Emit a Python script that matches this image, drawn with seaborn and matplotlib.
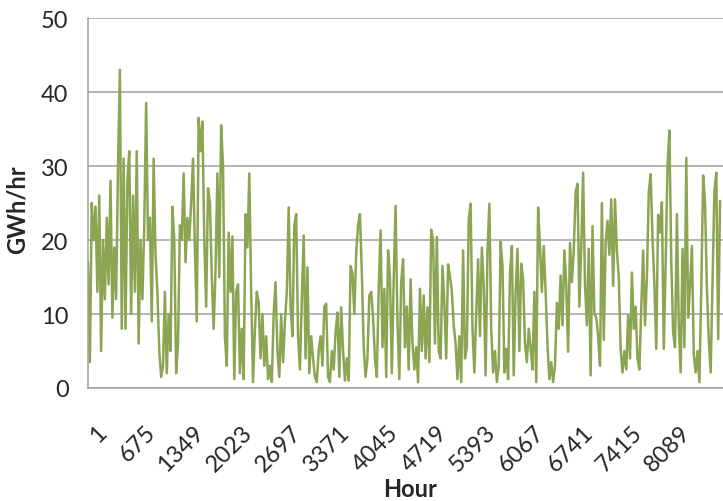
import numpy as np
import pandas as pd
import matplotlib
matplotlib.use('Agg')
import matplotlib.pyplot as plt
import matplotlib.transforms as mtransforms
import seaborn as sns

# Hourly load, one value roughly every 26 hours, in blocks of ~1040 hours
block1 = [17, 3.5, 25, 20, 24.5, 13, 26, 5, 20, 12, 23, 14, 28, 9.5, 19, 12, 30, 43, 8, 31,
          8, 28, 32, 10, 26, 13, 32, 6, 20, 12, 22, 38.5, 20, 23, 9, 31, 18, 13, 5, 1.5]
block2 = [3, 13, 2, 10, 5, 24.5, 20, 2, 6, 22, 20, 29, 17, 23, 20, 25, 31, 19, 9, 36.5,
          32, 36, 20, 11, 27, 25, 15, 8, 16, 29, 15, 35.5, 30, 7, 3, 21, 13, 20.5, 1.2, 13]
block3 = [14, 2, 8, 1.2, 23.5, 19, 29, 13, 0.8, 8, 13, 11.5, 4, 10, 3, 7, 1.2, 3, 0.8, 10,
          14.3, 5, 1.5, 10, 3.5, 9, 13, 24.4, 11, 7, 22, 23.5, 7, 2.5, 12, 20.6, 4, 16.3, 2, 7]
block4 = [4, 1.5, 0.8, 5, 7, 3, 11, 11.4, 1.5, 0.8, 5, 2.5, 7.5, 10.2, 1.5, 10.9, 5, 1, 4, 1,
          16.5, 15.5, 10, 18.3, 22, 23.5, 15.6, 5.5, 1.5, 4, 12.5, 13, 9.5, 4, 1.5, 13.4, 21.3, 5.5, 13.4, 1.5]
block5 = [18.6, 15, 2, 14.7, 24.6, 9, 1.2, 14.3, 17.4, 5.5, 11, 2.5, 14.7, 6, 2.5, 5.5, 0.8, 13.4, 5, 12.5,
          4, 10.9, 3.5, 21.4, 20, 6, 20.4, 5, 4, 16.5, 11.5, 4, 16.7, 15, 13, 8.5, 6, 1.2, 7, 0.8]
block6 = [18.6, 4, 5.5, 22.8, 24.9, 8, 2.1, 10, 17.4, 7, 19, 13.8, 1.7, 18.3, 24.9, 8, 2.1, 5, 0.8, 3,
          19.8, 16.5, 2.1, 5.3, 1.2, 15.5, 19.2, 1.7, 12.9, 18.8, 5, 16.8, 14.7, 6, 3.5, 8, 5.5, 2.5, 13, 0.8]
block7 = [24.4, 19, 13, 19.2, 13, 5.8, 1.2, 3.5, 0.8, 3, 11.5, 8, 15.2, 8.5, 18.6, 14, 4.9, 19.6, 14.3, 18.6,
          26.5, 27.6, 11, 19, 29.1, 14, 8.5, 18.8, 1.7, 21.9, 10, 9.5, 7, 3, 25, 6.5, 19.7, 22.6, 18, 25.5]
block8 = [13.8, 25.5, 18.5, 15, 5.3, 2.1, 5, 2.5, 9.8, 4, 15.6, 8, 11, 4, 2.5, 11, 18.6, 8.5, 15, 26.5,
          28.9, 20.1, 14, 5.3, 23.4, 21, 25.1, 5.3, 17, 30, 34.8, 17, 7.5, 5.5, 23.5, 8.5, 2.1, 18.8, 5.5, 31.1]
block9 = [9.5, 13.8, 19.2, 4.5, 2.1, 5, 0.8, 13.4, 28.7, 25, 13.4, 6.5, 2.1, 14.3, 26.6, 29.1, 6.6, 25.3]

tick_labels = ['1', '675', '1349', '2023', '2697', '3371', '4045',
               '4719', '5393', '6067', '6741', '7415', '8089']

values = block1 + block2 + block3 + block4 + block5 + block6 + block7 + block8 + block9
hours = np.linspace(1, 8760, len(values))
df = pd.DataFrame({'Hour': hours, 'GWh/hr': values})

sns.set_style('white')
plt.rcParams['font.family'] = ['Lato', 'DejaVu Sans']

fig = plt.figure(figsize=(7.23, 5.02), dpi=100)
ax = fig.add_axes([88 / 723, (502 - 389) / 502, 635 / 723, 370 / 502])
sns.lineplot(data=df, x='Hour', y='GWh/hr', color='#8BA552', lw=1.8, ax=ax)

ax.set_xlim(1, 8801)
ax.set_ylim(0, 50)
ax.set_yticks(range(0, 51, 10))
ax.set_xticks([int(t) for t in tick_labels])
ax.set_xticklabels(tick_labels, rotation=45, ha='right', rotation_mode='anchor')

ax.tick_params(axis='x', length=0, pad=24, labelsize=17)
ax.tick_params(axis='y', length=6, width=1.1, color='#a0a0a0', labelsize=17, pad=8)
# nudge the slanted hour labels a little to the right, like the original
shift = mtransforms.ScaledTranslation(8 / 100, 0, fig.dpi_scale_trans)
for lbl in ax.get_xticklabels():
    lbl.set_transform(lbl.get_transform() + shift)

ax.yaxis.grid(True, color='#a0a0a0', lw=1.1)
ax.set_axisbelow(True)
for side in ['top', 'right']:
    ax.spines[side].set_visible(False)
for side in ['left', 'bottom']:
    ax.spines[side].set_color('#a0a0a0')
    ax.spines[side].set_linewidth(1.1)

ax.set_xlabel('Hour', fontsize=17, fontweight='bold')
ax.set_ylabel('GWh/hr', fontsize=17, fontweight='bold')
ax.xaxis.set_label_coords(0.507, -0.24)
ax.yaxis.set_label_coords(-0.094, 0.484)

fig.savefig('out.png', dpi=100)
